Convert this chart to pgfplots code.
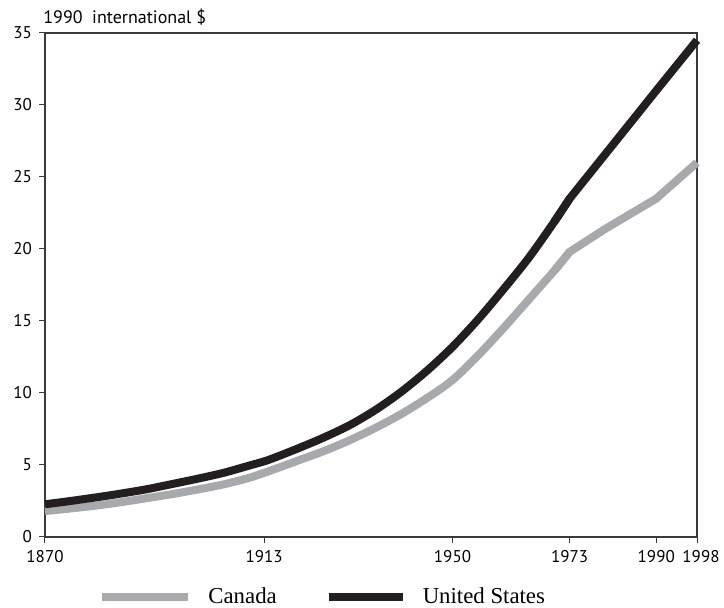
\documentclass[border=0pt]{standalone}
\usepackage{pgfplots}
\pgfplotsset{compat=1.18}
\usepackage{fontspec}
\setmainfont{Liberation Serif}
\newfontfamily\tickfont{PT Sans}
\definecolor{cangray}{HTML}{A7A9AC}
\definecolor{usblack}{HTML}{231F20}
\definecolor{axgray}{HTML}{3A3A3A}
\pgfplotsset{
    canleg/.style={legend image code/.code={\draw[##1] (0pt,0pt) -- (43pt,0pt);}},
    usleg/.style={legend image code/.code={\draw[##1] (0pt,0pt) -- (37pt,0pt);}},
}
\begin{document}
\begin{tikzpicture}
\begin{axis}[
    name=ax,
    scale only axis,
    width=326pt, height=252pt,
    xmin=1870, xmax=1998,
    ymin=0, ymax=35,
    xtick={1870,1913,1950,1973,1990,1998},
    xticklabels={1870,1913,1950,1973,1990,\hspace*{4pt}1998},
    ytick={0,5,...,35},
    tick align=outside,
    xtick pos=bottom, ytick pos=left,
    major tick length=3pt,
    axis line style={axgray, line width=0.6pt},
    every tick/.style={axgray, line width=0.5pt},
    ticklabel style={font=\tickfont\fontsize{8.5}{10}\selectfont, text=black},
    /pgf/number format/assume math mode=true,
    legend columns=2,
    legend style={
        at={(rel axis cs:0,0)}, anchor=west,
        xshift=26.5pt, yshift=-30pt,
        draw=none, fill=none, inner sep=0pt,
        font=\fontsize{11.4}{13}\selectfont,
        nodes={inner sep=0pt},
        /tikz/every odd column/.append style={column sep=8pt},
        /tikz/every even column/.append style={column sep=24pt},
    },
    legend cell align=left,
    clip=false,
]
% Canada: smooth part 1870-1973, straight segments afterwards
\addplot[cangray, line width=4pt, smooth, forget plot]
coordinates {
(1870,1.8) (1875,1.98) (1880,2.18) (1885,2.42) (1890,2.7) (1895,2.98)
(1900,3.3) (1905,3.65) (1910,4.1) (1913,4.45) (1915,4.7) (1920,5.35)
(1925,6.0) (1930,6.75) (1935,7.6) (1940,8.55) (1945,9.65) (1950,10.9)
(1955,12.6) (1960,14.5) (1965,16.5) (1970,18.5) (1973,19.8)
};
\addplot[cangray, line width=4pt, line join=round, canleg]
coordinates {(1970,18.5) (1973,19.8) (1980,21.4) (1990,23.5) (1998,26.0)};
\addlegendentry{Canada}
% United States
\addplot[usblack, line width=4pt, smooth, forget plot]
coordinates {
(1870,2.27) (1875,2.5) (1880,2.75) (1885,3.02) (1890,3.32) (1895,3.68)
(1900,4.05) (1905,4.45) (1910,4.95) (1913,5.25) (1915,5.5) (1920,6.2)
(1925,6.95) (1930,7.8) (1935,8.85) (1940,10.1) (1945,11.55) (1950,13.2)
(1955,15.1) (1960,17.2) (1965,19.4) (1970,21.9) (1973,23.5)
};
\addplot[usblack, line width=4pt, line join=round, usleg]
coordinates {(1970,21.9) (1973,23.5) (1990,31.0) (1998,34.5)};
\addlegendentry{United States}
\node[anchor=base west, inner sep=0pt, font=\tickfont\fontsize{9}{10}\selectfont]
    at ([xshift=-1pt, yshift=4.5pt]rel axis cs:0,1) {1990\ \ international \$};
\end{axis}
\pgfresetboundingbox
\path[use as bounding box] ([xshift=-22.5pt,yshift=-35.5pt]ax.south west) rectangle ([xshift=13.5pt,yshift=16.5pt]ax.north east);
\end{tikzpicture}
\end{document}
